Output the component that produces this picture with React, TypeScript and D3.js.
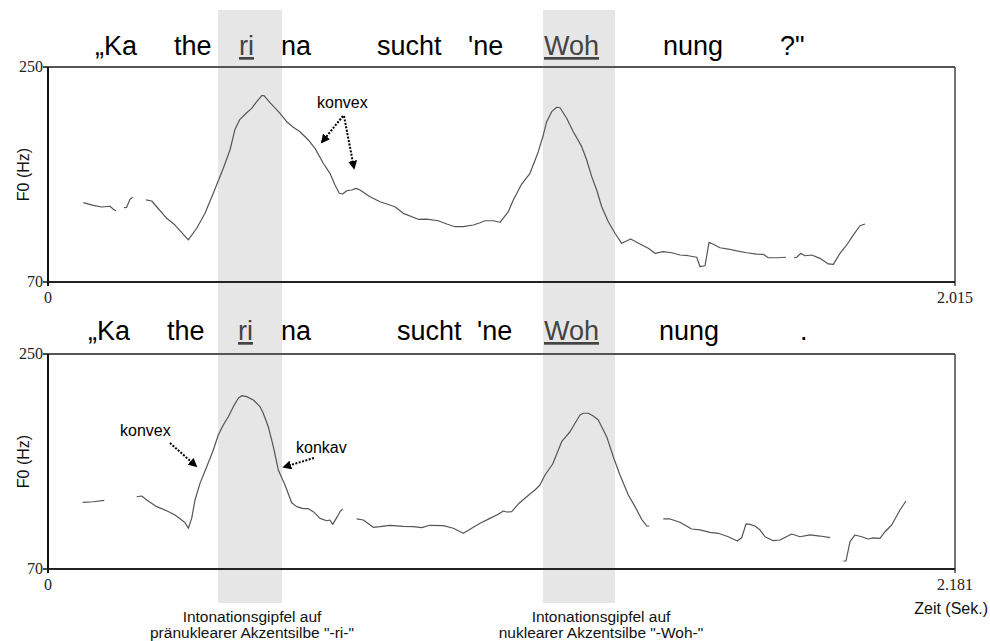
import React from "react";
import * as d3 from "d3";

type Pt = [number, number];

// ---- Data: F0 contour (time in s, F0 in Hz) ----
// Question: "Katherina sucht 'ne Wohnung?"
const questionSeg1: Pt[] = [[0.0784,136.4],[0.1006,134.2],[0.1193,132.8],[0.1377,133.4],[0.1451,130.9],[0.1511,129.7]];
const questionSeg2: Pt[] = [[0.1688,132.2],[0.1748,132.5],[0.1822,139.2],[0.1882,140.9]];
const questionSeg3: Pt[] = [
  [0.2177,138.7],[0.2304,137.8],[0.2415,133.0],[0.2637,123.3],[0.2821,117.7],[0.3117,105.2],[0.3304,115.0],
  [0.3488,127.5],[0.3672,144.3],[0.3895,165.2],[0.4043,180.5],[0.4154,197.8],[0.4265,206.2],[0.4414,211.7],
  [0.4525,215.4],[0.4637,221.0],[0.4748,226.0],[0.4799,226.0],[0.4932,220.1],[0.5154,211.2],[0.5303,204.2],
  [0.5450,199.5],[0.5598,195.8],[0.5783,188.9],[0.5932,181.9],[0.6116,169.4],[0.6265,161.0],[0.6376,151.2],
  [0.6472,144.3],[0.6547,143.7],[0.6636,146.4],[0.6747,147.0],[0.6843,148.4],[0.6931,147.0],[0.7154,141.4],
  [0.7376,137.2],[0.7709,133.0],[0.7893,127.5],[0.8227,122.5],[0.8413,122.7],[0.8671,121.3],[0.8858,118.6],
  [0.9042,116.3],[0.9227,116.3],[0.9449,117.7],[0.9597,119.6],[0.9708,121.3],[0.9893,121.3],[1.0042,120.0],
  [1.0226,128.9],[1.0337,138.7],[1.0524,152.0],[1.0708,161.0],[1.0893,179.1],[1.1004,193.1],[1.1079,204.2],
  [1.1190,212.6],[1.1301,216.3],[1.1375,215.9],[1.1523,207.1],[1.1670,195.8],[1.1857,183.3],[1.1968,172.1],
  [1.2079,158.2],[1.2190,147.0],[1.2301,133.0],[1.2448,120.5],[1.2597,110.8],[1.2745,102.4],[1.2945,106.0],
  [1.3152,101.8],[1.3336,98.2],[1.3485,94.0],[1.3670,95.4],[1.3856,94.5],[1.4041,92.6],[1.4225,92.0],
  [1.4412,90.7],[1.4485,82.8],[1.4596,83.6],[1.4685,103.2],[1.4780,101.6],[1.4929,98.7],[1.5114,97.6],
  [1.5300,96.0],[1.5522,94.5],[1.5745,93.4],[1.5891,93.2],[1.6002,90.3],[1.6189,90.3],[1.6395,90.7]
];
const questionSeg4: Pt[] = [
  [1.6573,90.3],[1.6633,90.7],[1.6722,94.0],[1.6817,92.0],[1.6966,92.6],[1.7151,89.8],[1.7335,85.1],
  [1.7446,84.8],[1.7595,94.0],[1.7744,101.0],[1.7890,109.3],[1.8039,117.1],[1.8151,118.6]
];

// Statement: "Katherina sucht 'ne Wohnung."
const statementSeg1: Pt[] = [[0.0834,125.8],[0.1089,126.3],[0.1354,127.5]];
const statementSeg2: Pt[] = [
  [0.2133,130.5],[0.2253,131.1],[0.2373,127.8],[0.2614,122.2],[0.2854,118.8],[0.3054,115.2],[0.3215,111.0],
  [0.3294,108.8],[0.3374,104.1],[0.3455,112.4],[0.3535,127.8],[0.3655,141.7],[0.3816,155.6],[0.3975,169.6],
  [0.4095,182.2],[0.4215,190.6],[0.4336,197.5],[0.4456,205.9],[0.4576,212.9],[0.4658,215.1],[0.4778,214.3],
  [0.4937,211.5],[0.5098,205.9],[0.5177,200.4],[0.5297,189.1],[0.5418,172.4],[0.5538,152.9],[0.5699,140.3],
  [0.5860,125.5],[0.5980,122.2],[0.6139,120.5],[0.6259,120.5],[0.6379,118.0],[0.6541,112.4],[0.6702,110.4],
  [0.6781,111.0],[0.6846,107.4],[0.6956,113.8],[0.7021,118.0],[0.7086,120.2]
];
const statementSeg3: Pt[] = [
  [0.7423,111.9],[0.7582,111.0],[0.7822,104.9],[0.7983,105.4],[0.8224,106.6],[0.8543,105.7],[0.8784,105.4],
  [0.8986,104.6],[0.9186,106.6],[0.9505,106.3],[0.9746,104.1],[0.9986,99.9],[1.0188,104.1],[1.0388,108.3],
  [1.0628,112.4],[1.0828,115.8],[1.0948,118.6],[1.1030,117.7],[1.1150,118.0],[1.1309,124.4],[1.1470,129.2],
  [1.1590,132.8],[1.1710,136.1],[1.1831,140.3],[1.1951,148.7],[1.2136,157.9],[1.2352,176.6],[1.2552,184.9],
  [1.2792,198.9],[1.2872,200.4],[1.2992,200.4],[1.3112,198.1],[1.3233,194.7],[1.3434,180.8],[1.3593,164.0],
  [1.3754,148.7],[1.3954,132.0],[1.4115,122.2],[1.4276,111.6],[1.4396,106.0],[1.4459,106.0]
];
const statementSeg4: Pt[] = [
  [1.4796,111.9],[1.4957,111.9],[1.5197,109.1],[1.5478,103.5],[1.5678,102.7],[1.5918,100.7],[1.6118,99.9],
  [1.6359,97.0],[1.6575,93.4],[1.6681,96.2],[1.6784,107.7],[1.6880,107.4],[1.7001,106.0],[1.7121,102.7],
  [1.7241,97.0],[1.7441,93.7],[1.7602,94.3],[1.7883,99.3],[1.8083,97.0],[1.8323,98.5],[1.8564,97.6],[1.8804,96.2]
];
const statementSeg5: Pt[] = [
  [1.9124,76.7],[1.9189,76.7],[1.9285,92.9],[1.9405,98.5],[1.9566,97.0],[1.9725,95.1],[1.9845,96.0],
  [2.0006,95.7],[2.0127,101.2],[2.0287,106.8],[2.0487,119.4],[2.0631,126.9]
];

const questionSegments = [questionSeg1, questionSeg2, questionSeg3, questionSeg4];
const statementSegments = [statementSeg1, statementSeg2, statementSeg3, statementSeg4, statementSeg5];

const questionDuration = 2.015;
const statementDuration = 2.181;
const f0Range: [number, number] = [70, 250];

// syllable labels
const questionSyllables = ["\u201EKa", "the", "ri", "na", "sucht", "'ne", "Woh", "nung", '?"'];
const statementSyllables = ["\u201EKa", "the", "ri", "na", "sucht", "'ne", "Woh", "nung", "."];
const accentSyllables = ["ri", "Woh"];

// accent bands (in question-time seconds)
const accentBands: Pt[] = [[0.3777, 0.5199], [1.0997, 1.2597]];

const captions = [
  ["Intonationsgipfel auf", "pr\u00E4nuklearer Akzentsilbe \"-ri-\""],
  ["Intonationsgipfel auf", "nuklearer Akzentsilbe \"-Woh-\""],
];

// ---- layout ----
const W = 990, H = 641;
const X0 = 48, X1 = 955;
const topPanel = { y0: 67, y1: 282, textY: 55 };
const botPanel = { y0: 354, y1: 569, textY: 340 };
const questionWordX = [95, 174, 239, 281, 377, 468, 544, 663, 780];
const statementWordX = [88, 167, 238, 281, 397, 477, 544, 659, 800];
const captionX = [252, 601];

const SANS = "Arial, 'Liberation Sans', Helvetica, sans-serif";
const SERIF = "'Times New Roman', 'Liberation Serif', serif";

function Panel({ segments, duration, p, words, wordX, maxLabel }: any) {
  const x = d3.scaleLinear().domain([0, duration]).range([X0, X1]);
  const y = d3.scaleLinear().domain(f0Range).range([p.y1, p.y0]);
  const line = d3.line<Pt>().x((d) => x(d[0])).y((d) => y(d[1]));
  return (
    <g>
      {/* words */}
      {words.map((w: string, i: number) => {
        const acc = accentSyllables.includes(w);
        return (
          <text key={i} x={wordX[i]} y={p.textY} fontFamily={SANS} fontSize={27}
            fill={acc ? "#444" : "#000"} textDecoration={acc ? "underline" : undefined}>
            {w}
          </text>
        );
      })}
      {/* frame */}
      <line x1={X0} x2={X1} y1={y(f0Range[1])} y2={y(f0Range[1])} stroke="#555" strokeWidth={2} />
      <line x1={X1} x2={X1} y1={y(f0Range[1])} y2={y(f0Range[0]) + 4} stroke="#444" strokeWidth={1.5} />
      <line x1={X0} x2={X1} y1={y(f0Range[0])} y2={y(f0Range[0])} stroke="#222" strokeWidth={2} />
      <line x1={X0} x2={X0} y1={y(f0Range[1])} y2={y(f0Range[0]) + 4} stroke="#111" strokeWidth={2} />
      {f0Range.map((v) => (
        <g key={v}>
          <line x1={X0 - 5} x2={X0} y1={y(v)} y2={y(v)} stroke="#111" strokeWidth={1.5} />
          <text x={X0 - 5} y={y(v) + 5} textAnchor="end" fontFamily={SERIF} fontSize={16} fill="#222">{v}</text>
        </g>
      ))}
      <text x={x(0)} y={p.y1 + 21} textAnchor="middle" fontFamily={SERIF} fontSize={16} fill="#222">0</text>
      <text x={x(duration)} y={p.y1 + 21} textAnchor="middle" fontFamily={SERIF} fontSize={16} fill="#222">{maxLabel}</text>
      <text transform={`translate(29,${(p.y0 + p.y1) / 2}) rotate(-90)`} textAnchor="middle"
        fontFamily={SANS} fontSize={16} fill="#111">F0 (Hz)</text>
      {/* contour */}
      {segments.map((s: Pt[], i: number) => (
        <path key={i} d={line(s) || ""} fill="none" stroke="#555" strokeWidth={1.2} strokeLinejoin="round" />
      ))}
    </g>
  );
}

function Arrow({ x1, y1, x2, y2 }: { x1: number; y1: number; x2: number; y2: number }) {
  return (
    <line x1={x1} y1={y1} x2={x2} y2={y2} stroke="#000" strokeWidth={2} strokeDasharray="2,1.5" markerEnd="url(#ah)" />
  );
}

export default function App() {
  const xq = d3.scaleLinear().domain([0, questionDuration]).range([X0, X1]);
  return (
    <svg width={W} height={H} style={{ position: "absolute", left: 0, top: 0, background: "#fff" }}>
      <defs>
        <marker id="ah" viewBox="0 0 10 10" refX="8" refY="5" markerWidth="4.5" markerHeight="4.5" orient="auto" markerUnits="strokeWidth">
          <path d="M0,0 L10,5 L0,10 z" fill="#000" />
        </marker>
      </defs>
      <rect width={W} height={H} fill="#fff" />
      {accentBands.map((b, i) => (
        <rect key={i} x={xq(b[0])} width={xq(b[1]) - xq(b[0])} y={10} height={593} fill="#e6e6e6" />
      ))}
      <Panel segments={questionSegments} duration={questionDuration} p={topPanel}
        words={questionSyllables} wordX={questionWordX} maxLabel="2.015" />
      <Panel segments={statementSegments} duration={statementDuration} p={botPanel}
        words={statementSyllables} wordX={statementWordX} maxLabel="2.181" />
      {/* annotations */}
      <text x={317} y={108} fontFamily={SANS} fontSize={16}>konvex</text>
      <Arrow x1={343} y1={116} x2={322} y2={142} />
      <Arrow x1={344} y1={116} x2={354} y2={168} />
      <text x={120} y={436} fontFamily={SANS} fontSize={16}>konvex</text>
      <Arrow x1={170} y1={443} x2={196} y2={466} />
      <text x={296} y={453} fontFamily={SANS} fontSize={16}>konkav</text>
      <Arrow x1={314} y1={458} x2={284} y2={467} />
      {/* captions */}
      {captions.map((c, i) => (
        <text key={i} x={captionX[i]} textAnchor="middle" fontFamily={SANS} fontSize={15.5} fill="#111">
          <tspan x={captionX[i]} y={622}>{c[0]}</tspan>
          <tspan x={captionX[i]} y={638}>{c[1]}</tspan>
        </text>
      ))}
      <text x={988} y={614} textAnchor="end" fontFamily={SANS} fontSize={16} fill="#111">Zeit (Sek.)</text>
    </svg>
  );
}
